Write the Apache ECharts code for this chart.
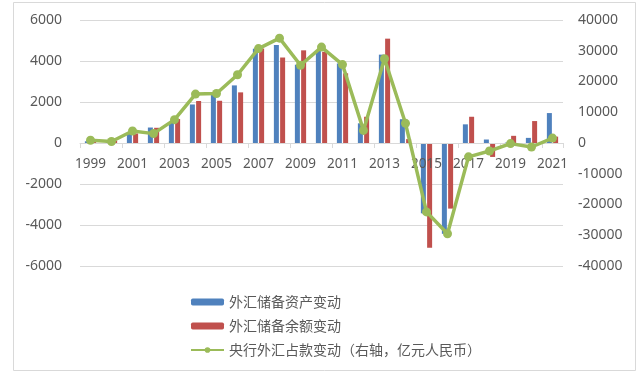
<!DOCTYPE html>
<html>
<head>
<meta charset="utf-8">
<script src="https://cdn.jsdelivr.net/npm/echarts@6/dist/echarts.min.js"></script>
<style>
  html, body { margin: 0; padding: 0; background: #fff; }
  #chart { width: 640px; height: 378px; }
</style>
</head>
<body>
<div id="chart"></div>
<script>
// 年份
const years = ['1999', '2000', '2001', '2002', '2003', '2004', '2005', '2006', '2007', '2008', '2009', '2010',
  '2011', '2012', '2013', '2014', '2015', '2016', '2017', '2018', '2019', '2020', '2021'];

// 外汇储备资产变动（左轴）
const reserveAssetChange = [85, 105, 473, 755, 1000, 1880, 2380, 2810, 4600, 4780, 3820, 4520,
  3880, 960, 4310, 1160, -3430, -4430, 910, 170, 20, 250, 1460];

// 外汇储备余额变动（左轴）
const reserveBalanceChange = [97, 109, 466, 742, 1168, 2050, 2060, 2470, 4610, 4170, 4520, 4450,
  3400, 1280, 5090, 190, -5110, -3200, 1280, -680, 350, 1070, 310];

// 央行外汇占款变动（右轴，亿元人民币）
const pbocFxChange = [900, 500, 3900, 3050, 7600, 15900, 16100, 22200, 30700, 34100, 25300, 31200,
  25500, 4100, 27400, 6400, -22400, -29500, -4500, -2600, -200, -1300, 1600];

const leftTicks = { min: -6000, max: 6000, interval: 2000 };
const rightTicks = { min: -40000, max: 40000, interval: 10000 };

const fontBase = '"Noto Sans", "Noto Sans CJK SC", sans-serif';

const chart = echarts.init(document.getElementById('chart'));

// 网格高度 246px，零线在中间，x 轴上移 123px
const option = {
  backgroundColor: '#fff',
  animation: false,
  textStyle: { fontFamily: fontBase },
  graphic: [{
    type: 'rect',
    shape: { x: 13.5, y: 2.5, width: 622, height: 368 },
    style: { fill: 'none', stroke: '#d9d9d9', lineWidth: 1 },
    silent: true
  }],
  grid: { left: 80, right: 77, top: 20, bottom: 112 },
  legend: {
    orient: 'vertical',
    left: 185,
    top: 290,
    itemGap: 10,
    itemWidth: 33,
    itemHeight: 7,
    textStyle: { color: '#595959', fontSize: 14, fontFamily: '"Noto Sans CJK SC", sans-serif' },
    data: ['外汇储备资产变动', '外汇储备余额变动', '央行外汇占款变动（右轴，亿元人民币）']
  },
  xAxis: {
    type: 'category',
    data: years,
    offset: -123,
    z: 4,
    axisLine: { onZero: false, lineStyle: { color: '#d9d9d9' } },
    axisTick: { show: true, length: 5, lineStyle: { color: '#d9d9d9' } },
    axisLabel: { interval: 1, color: '#595959', fontSize: 13.5, margin: 14 }
  },
  yAxis: [{
    type: 'value',
    min: leftTicks.min,
    max: leftTicks.max,
    interval: leftTicks.interval,
    axisLine: { show: false },
    axisTick: { show: false },
    axisLabel: { color: '#595959', fontSize: 14, margin: 18, formatter: v => String(v) },
    splitLine: { lineStyle: { color: '#d9d9d9' } }
  }, {
    type: 'value',
    min: rightTicks.min,
    max: rightTicks.max,
    interval: rightTicks.interval,
    axisLine: { show: false },
    axisTick: { show: false },
    axisLabel: { color: '#595959', fontSize: 14, margin: 15, formatter: v => String(v) },
    splitLine: { show: false }
  }],
  series: [{
    name: '外汇储备资产变动',
    type: 'bar',
    yAxisIndex: 0,
    data: reserveAssetChange,
    barWidth: 5,
    barGap: '25%',
    itemStyle: { color: '#4f81bd' }
  }, {
    name: '外汇储备余额变动',
    type: 'bar',
    yAxisIndex: 0,
    data: reserveBalanceChange,
    barWidth: 5,
    itemStyle: { color: '#c0504d' }
  }, {
    name: '央行外汇占款变动（右轴，亿元人民币）',
    type: 'line',
    yAxisIndex: 1,
    data: pbocFxChange,
    symbol: 'circle',
    symbolSize: 9,
    lineStyle: { color: '#9bbb59', width: 3.5 },
    itemStyle: { color: '#9bbb59' },
    z: 5
  }]
};

chart.setOption(option);
</script>
</body>
</html>
